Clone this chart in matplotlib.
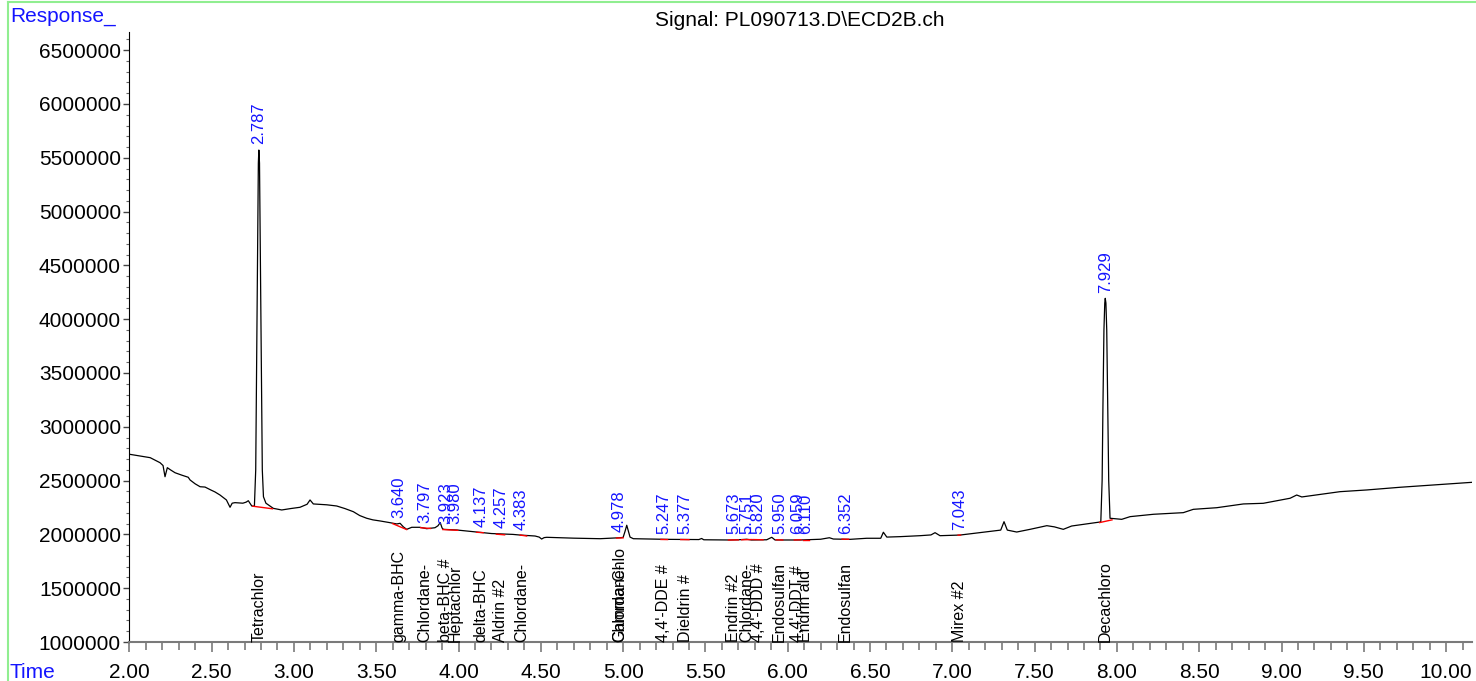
import matplotlib
matplotlib.use("Agg")
import matplotlib.pyplot as plt
import numpy as np
from matplotlib.lines import Line2D
from matplotlib.ticker import MultipleLocator, FormatStrFormatter

plt.rcParams['font.family'] = ['Liberation Sans', 'DejaVu Sans']

# chromatogram trace: time (min), response
trace_t = [2.000, 2.060, 2.127, 2.187, 2.205, 2.217, 2.231, 2.250, 2.278, 2.320,
           2.358, 2.369, 2.400, 2.430, 2.460, 2.495, 2.520, 2.551, 2.590, 2.612,
           2.625, 2.642, 2.690, 2.710, 2.723, 2.735, 2.744, 2.760, 2.768, 2.773,
           2.779, 2.784, 2.787, 2.791, 2.796, 2.802, 2.808, 2.815, 2.830, 2.875,
           2.926, 2.980, 3.037, 3.080, 3.098, 3.118, 3.200, 3.260, 3.310, 3.361,
           3.400, 3.442, 3.480, 3.523, 3.580, 3.625, 3.645, 3.665, 3.685, 3.716,
           3.766, 3.807, 3.857, 3.875, 3.889, 3.900, 3.908, 3.989, 4.060, 4.131,
           4.160, 4.200, 4.272, 4.330, 4.374, 4.465, 4.490, 4.505, 4.520, 4.536,
           4.617, 4.700, 4.860, 4.981, 5.000, 5.012, 5.022, 5.032, 5.042, 5.062,
           5.265, 5.460, 5.477, 5.490, 5.649, 5.700, 5.751, 5.780, 5.872, 5.903,
           5.923, 6.075, 6.200, 6.253, 6.277, 6.378, 6.480, 6.565, 6.581, 6.602,
           6.682, 6.804, 6.870, 6.895, 6.925, 7.047, 7.189, 7.270, 7.294, 7.314,
           7.334, 7.391, 7.472, 7.574, 7.620, 7.674, 7.725, 7.897, 7.902, 7.910,
           7.915, 7.921, 7.926, 7.929, 7.933, 7.938, 7.944, 7.950, 7.958, 8.029,
           8.080, 8.222, 8.403, 8.464, 8.606, 8.768, 8.889, 9.052, 9.092, 9.123,
           9.355, 9.518, 9.720, 9.922, 10.157]
trace_v = [2745000, 2730000, 2713000, 2666000, 2640000, 2536000, 2620000, 2600000, 2573000, 2550000,
           2531000, 2506000, 2470000, 2443000, 2440000, 2413000, 2395000, 2366000, 2320000, 2252000,
           2290000, 2295000, 2290000, 2300000, 2313000, 2285000, 2264000, 2262000, 2600000, 3500000,
           4600000, 5450000, 5572000, 5450000, 4600000, 3500000, 2600000, 2350000, 2290000, 2242000,
           2227000, 2240000, 2252000, 2280000, 2320000, 2283000, 2275000, 2264000, 2240000, 2211000,
           2175000, 2150000, 2135000, 2125000, 2110000, 2097000, 2103000, 2070000, 2047000, 2066000,
           2066000, 2053000, 2062000, 2080000, 2110000, 2060000, 2047000, 2041000, 2030000, 2020000,
           2015000, 2008000, 2004000, 2000000, 1994000, 1985000, 1975000, 1957000, 1970000, 1973000,
           1969000, 1965000, 1960000, 1969000, 1972000, 2030000, 2085000, 2030000, 1975000, 1960000,
           1954000, 1952000, 1962000, 1950000, 1948000, 1950000, 1955000, 1948000, 1950000, 1973000,
           1948000, 1948000, 1955000, 1969000, 1957000, 1954000, 1964000, 1964000, 2020000, 1975000,
           1979000, 1988000, 1995000, 2016000, 1988000, 1994000, 2020000, 2034000, 2040000, 2118000,
           2040000, 2022000, 2047000, 2081000, 2070000, 2047000, 2078000, 2115000, 2118000, 2500000,
           3200000, 3900000, 4150000, 4194000, 4150000, 3900000, 3200000, 2500000, 2150000, 2140000,
           2165000, 2187000, 2202000, 2233000, 2248000, 2283000, 2289000, 2336000, 2366000, 2348000,
           2397000, 2413000, 2438000, 2459000, 2484000]

# integrated peaks: retention time and compound name
peak_rt = [2.787, 3.640, 3.797, 3.923, 3.980, 4.137, 4.257, 4.383, 4.978, 4.978,
           5.247, 5.377, 5.673, 5.751, 5.820, 5.950, 6.059, 6.110, 6.352, 7.043, 7.929]
peak_name = ["Tetrachlor", "gamma-BHC", "Chlordane-", "beta-BHC #", "Heptachlor",
             "delta-BHC", "Aldrin #2", "Chlordane-", "Gamma-Chlo", "Chlordane-",
             "4,4'-DDE #", "Dieldrin #", "Endrin #2", "Chlordane-", "4,4'-DDD #",
             "Endosulfan", "4,4'-DDT #", "Endrin ald", "Endosulfan", "Mirex #2", "Decachloro"]

# red integration baselines: start/end time and response
base_t0 = [2.750, 3.600, 3.770, 3.905, 4.110, 4.230, 4.374, 4.960, 5.230, 5.350,
           5.640, 5.720, 5.790, 5.930, 6.040, 6.090, 6.330, 7.035, 7.895]
base_t1 = [2.870, 3.685, 3.830, 3.995, 4.150, 4.280, 4.414, 5.000, 5.270, 5.400,
           5.700, 5.780, 5.850, 5.970, 6.080, 6.130, 6.370, 7.050, 7.970]
base_v0 = [2262000, 2100000, 2062000, 2045000, 2020000, 2002000, 1994000, 1966000, 1953000, 1952000,
           1948000, 1950000, 1952000, 1950000, 1948000, 1950000, 1956000, 1993000, 2110000]
base_v1 = [2238000, 2045000, 2055000, 2038000, 2016000, 1996000, 1985000, 1968000, 1952000, 1951000,
           1949000, 1952000, 1950000, 1948000, 1950000, 1950000, 1955000, 1994000, 2135000]

W, H = 1476, 681
fig = plt.figure(figsize=(W / 100, H / 100), dpi=100)
ax = fig.add_axes([129.3 / W, (H - 642) / H, (1472 - 129.3) / W, (642 - 32) / H])

ax.plot(trace_t, trace_v, color='black', lw=0.9)
for t0, t1, v0, v1 in zip(base_t0, base_t1, base_v0, base_v1):
    ax.plot([t0, t1], [v0, v1], color='red', lw=1.0)

ax.set_xlim(2.0, 10.157)
ax.set_ylim(1000000, 6669000)

done = set()
for rt, name in zip(peak_rt, peak_name):
    if rt not in done:  # same retention time -> one time label only
        yv = np.interp(rt, trace_t, trace_v)
        ax.annotate(f"{rt:.3f}", (rt, yv), xytext=(0, 4), textcoords='offset points',
                    rotation=90, ha='center', va='bottom', color='#1414ff', fontsize=12)
        done.add(rt)
    ax.text(rt, 1000000, name, rotation=90, ha='center', va='bottom',
            fontsize=11.5, color='black')

ax.spines['top'].set_visible(False)
ax.spines['right'].set_visible(False)
ax.spines['left'].set_color('black')
ax.spines['bottom'].set_color('#7a7a7a')
ax.spines['bottom'].set_linewidth(1.5)

ax.xaxis.set_major_locator(MultipleLocator(0.5))
ax.xaxis.set_minor_locator(MultipleLocator(0.1))
ax.xaxis.set_major_formatter(FormatStrFormatter('%.2f'))
ax.yaxis.set_major_locator(MultipleLocator(500000))
ax.yaxis.set_minor_locator(MultipleLocator(100000))
ax.yaxis.set_major_formatter(FormatStrFormatter('%d'))

ax.tick_params(axis='x', which='major', length=7, width=1.2, color='#7a7a7a',
               labelsize=15, pad=8)
ax.tick_params(axis='x', which='minor', length=5.5, width=1.2, color='#7a7a7a')
ax.tick_params(axis='y', which='major', length=4, width=1, color='#444444',
               labelsize=15, pad=2)
ax.tick_params(axis='y', which='minor', length=2.5, width=0.8, color='#666666')

fig.text(10 / W, 1 - 17 / H, "Response_", color='#1414ff', fontsize=15,
         ha='left', va='center')
fig.text(10 / W, 1 - 672 / H, "Time", color='#1414ff', fontsize=15,
         ha='left', va='center')
fig.text(800 / W, 1 - 20 / H, "Signal: PL090713.D\\ECD2B.ch", color='black',
         fontsize=15, ha='center', va='center')

# light green frame at top and left
fig.add_artist(Line2D([8 / W, 1], [1 - 2 / H, 1 - 2 / H], color='#90ee90', lw=1.5,
                      transform=fig.transFigure))
fig.add_artist(Line2D([8 / W, 8 / W], [0, 1 - 2 / H], color='#90ee90', lw=1.5,
                      transform=fig.transFigure))

fig.savefig("out.png", dpi=100)
